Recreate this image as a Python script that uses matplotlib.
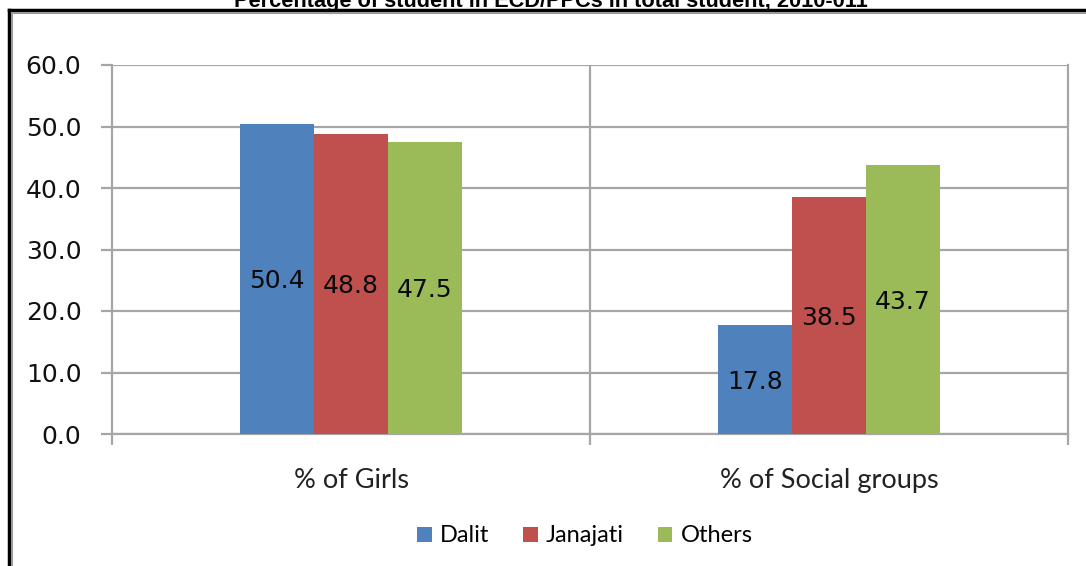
import matplotlib
matplotlib.use("Agg")
import matplotlib.pyplot as plt
from matplotlib.lines import Line2D
from matplotlib.patches import Patch
import numpy as np

categories = ["% of Girls", "% of Social groups"]
series_names = ["Dalit", "Janajati", "Others"]
dalit = [50.4, 17.8]
janajati = [48.8, 38.5]
others = [47.5, 43.7]
colors = ["#4F81BD", "#C0504D", "#9BBB59"]
yticks = [0, 10, 20, 30, 40, 50, 60]
title = "Percentage of student in ECD/PPCs in total student, 2010-011"

W, H = 1086, 566
fig = plt.figure(figsize=(W / 100, H / 100), dpi=100)
ax = fig.add_axes([112 / W, 1 - 434 / H, (1068 - 112) / W, (434 - 65) / H])

grid_c = "#A6A6A6"
x = np.arange(len(categories)) + 0.5
bw = 74 / 478
for i, (name, vals) in enumerate(zip(series_names, [dalit, janajati, others])):
    pos = x + (i - 1) * bw
    bars = ax.bar(pos, vals, width=bw, color=colors[i], zorder=3, label=name)
    for b, v in zip(bars, vals):
        ax.text(b.get_x() + b.get_width() / 2, v / 2 - 0.4, f"{v:.1f}",
                ha="center", va="center", fontsize=18, family="DejaVu Sans",
                color="#0A0A0A", zorder=4)

ax.set_xlim(0, 2)
ax.set_ylim(0, 60)
ax.set_yticks(yticks)
ax.set_yticklabels([f"{t:.1f}" for t in yticks], fontsize=18, family="DejaVu Sans",
                   color="#111111")
ax.yaxis.grid(True, color=grid_c, lw=1.6, zorder=0)
ax.set_xticks([0, 1, 2])
ax.set_xticklabels([])
ax.axvline(1, color=grid_c, lw=1.6, zorder=0)
ax.tick_params(axis="y", length=8, width=1.6, color=grid_c, pad=14)
ax.tick_params(axis="x", length=8, width=1.6, color=grid_c)
ax.spines["top"].set_visible(False)
for s in ["left", "bottom", "right"]:
    ax.spines[s].set_color(grid_c)
    ax.spines[s].set_linewidth(1.6)
for xc, lab in zip(x, categories):
    ax.text(xc, -7.5, lab, ha="center", va="center", fontsize=19.5, family="Lato",
            color="#222222")

handles = [Patch(facecolor=c, edgecolor="none") for c in colors]
leg = fig.legend(handles, series_names, loc="center", bbox_to_anchor=(585 / W, 1 - 536 / H),
                 ncol=3, frameon=False, prop={"family": "Lato", "size": 17},
                 handlelength=0.6, handleheight=0.6, handletextpad=0.35, columnspacing=1.45)

fig.text(551 / W, 1 - 7 / H, title, ha="center", va="baseline", fontsize=15.7,
         fontweight="bold", family="Liberation Sans")

# frame
fig.add_artist(Line2D([9 / W, 1], [1 - 10 / H, 1 - 10 / H], color="black", lw=2.5,
                      transform=fig.transFigure))
fig.add_artist(Line2D([9 / W, 9 / W], [0, 1 - 10 / H], color="black", lw=2.5,
                      transform=fig.transFigure))
fig.add_artist(Line2D([12 / W, 1], [1 - 12.5 / H, 1 - 12.5 / H], color="#9A9A9A", lw=1.5,
                      transform=fig.transFigure))
fig.add_artist(Line2D([12 / W, 12 / W], [0, 1 - 12.5 / H], color="#9A9A9A", lw=1.5,
                      transform=fig.transFigure))

fig.savefig("out.png", dpi=100)
